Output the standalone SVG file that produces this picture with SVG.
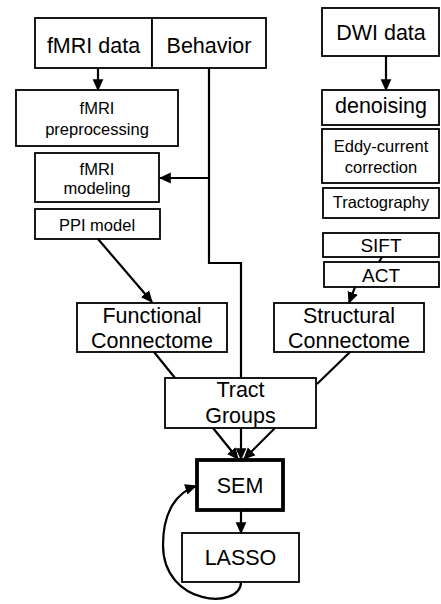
<svg xmlns="http://www.w3.org/2000/svg" width="441" height="604" viewBox="0 0 441 604">
<style>
  rect { fill: #fff; stroke: #000; stroke-width: 1.8; }
  text { font-family: "Liberation Sans", Arial, sans-serif; fill: #000; text-anchor: middle; }
  .big { font-size: 21.5px; }
  .mid { font-size: 19px; }
  .small { font-size: 16.5px; }
  .c { fill: none; stroke: #000; stroke-width: 2.2; }
</style>
<defs>
  <marker id="ah" markerUnits="userSpaceOnUse" markerWidth="12" markerHeight="12" viewBox="0 0 10 10" refX="9" refY="5" orient="auto">
    <path d="M0,0.5 L10,5 L0,9.5 z" fill="#000"/>
  </marker>
</defs>
<g id="fmri-data"><rect x="35" y="18" width="117" height="50"/><text class="big" x="93.5" y="53">fMRI data</text></g>
<g id="behavior"><rect x="152" y="18" width="114" height="50"/><text class="big" x="209" y="53">Behavior</text></g>
<g id="dwi-data"><rect x="322" y="8" width="117" height="48"/><text class="big" x="381" y="40">DWI data</text></g>
<g id="fmri-preprocessing"><rect x="16" y="90" width="162" height="56"/><text class="small" x="97" y="114">fMRI</text><text class="small" x="97" y="135">preprocessing</text></g>
<g id="fmri-modeling"><rect x="35" y="153" width="124" height="49"/><text class="small" x="97" y="175">fMRI</text><text class="small" x="97" y="194">modeling</text></g>
<g id="ppi-model"><rect x="35" y="209" width="125" height="30"/><text class="small" x="97" y="231">PPI model</text></g>
<g id="denoising"><rect x="322" y="90" width="117" height="35"/><text class="big" x="381" y="113">denoising</text></g>
<g id="eddy-current"><rect x="322" y="129" width="117" height="54"/><text class="small" x="381" y="152">Eddy-current</text><text class="small" x="381" y="173">correction</text></g>
<g id="tractography"><rect x="323" y="188" width="116" height="30"/><text class="small" x="381" y="208">Tractography</text></g>
<g id="sift"><rect x="323" y="233" width="116" height="24"/><text class="mid" x="381" y="252">SIFT</text></g>
<g id="act"><rect x="324" y="262" width="115" height="25"/><text class="mid" x="381" y="282">ACT</text></g>
<g id="functional-connectome"><rect x="77" y="303" width="150" height="49"/><text class="big" x="152" y="323">Functional</text><text class="big" x="152" y="348">Connectome</text></g>
<g id="structural-connectome"><rect x="274" y="303" width="150" height="49"/><text class="big" x="349" y="323">Structural</text><text class="big" x="349" y="348">Connectome</text></g>
<g id="tract-groups"><rect x="165" y="378" width="151" height="50"/><text class="big" x="240.5" y="397">Tract</text><text class="big" x="240.5" y="423">Groups</text></g>
<g id="sem"><rect x="197" y="460" width="86" height="50" style="stroke-width:3.8"/><text class="big" x="240" y="493">SEM</text></g>
<g id="lasso"><rect x="182" y="533" width="117" height="49"/><text class="big" x="240.5" y="565">LASSO</text></g>
<g id="connectors">
  <path class="c" d="M98,68 V90" marker-end="url(#ah)"/>
  <path class="c" d="M386,56 V90" marker-end="url(#ah)"/>
  <path class="c" d="M209,68 V263 H241 V378"/>
  <path class="c" d="M209,178 H160" marker-end="url(#ah)"/>
  <path class="c" d="M98,239 L152,302" marker-end="url(#ah)"/>
  <path class="c" d="M382,257 L379,262"/>
  <path class="c" d="M355,287 L349,303" marker-end="url(#ah)"/>
  <path class="c" d="M154,352 L175,378"/>
  <path class="c" d="M350,352 L317,384"/>
  <path class="c" d="M213,428 L238,459" marker-end="url(#ah)"/>
  <path class="c" d="M241,428 V459" marker-end="url(#ah)"/>
  <path class="c" d="M275,428 L244,459" marker-end="url(#ah)"/>
  <path class="c" d="M241,511 V533" marker-end="url(#ah)"/>
  <path class="c" d="M241,582 C241,610 163,606 163,545 C163,510 178,492 196,486" marker-end="url(#ah)"/>
</g>
</svg>
